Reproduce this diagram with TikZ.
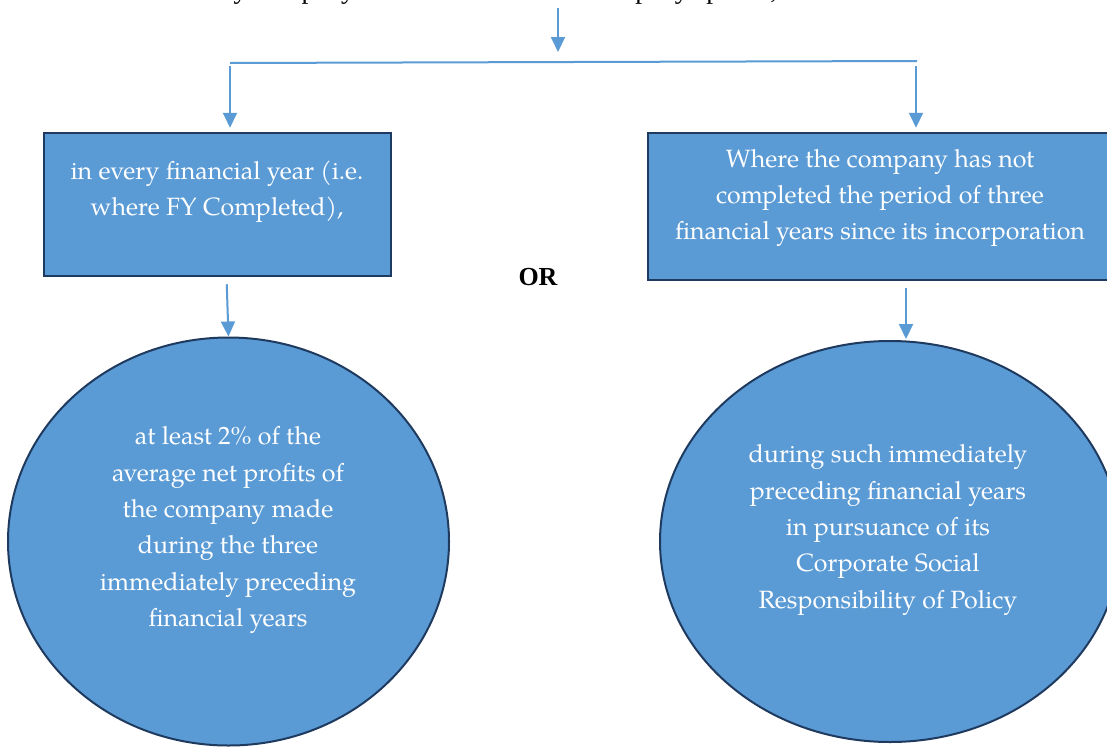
\documentclass[tikz,border=0pt]{standalone}
\usepackage{fontspec}
\setmainfont{TeX Gyre Pagella}
\newfontfamily\timesfont{Liberation Serif}
\usetikzlibrary{arrows.meta,shapes.geometric}
\definecolor{boxblue}{HTML}{5B9BD5}
\definecolor{edgenavy}{HTML}{1F3A5F}
\definecolor{arrowblue}{HTML}{5B9BD5}
\tikzset{
  boxstyle/.style={draw=edgenavy, fill=boxblue, line width=2.5pt, rectangle, inner sep=0pt},
  ellstyle/.style={draw=edgenavy, fill=boxblue, line width=2pt, ellipse, inner sep=0pt},
  bodytext/.style={text=white, align=center, font=\fontsize{25}{36.3}\selectfont, inner sep=0pt},
  arr/.style={draw=arrowblue, line width=2pt, -{Triangle[length=15pt,width=14pt]}},
  plainline/.style={draw=arrowblue, line width=2pt}
}
\begin{document}
\begin{tikzpicture}[x=1pt,y=-1pt]
\clip (0,0) rectangle (1107,747);
\fill[white] (0,0) rectangle (1107,747);

% intro text (only descenders visible)
\node[anchor=base west, inner sep=0pt, font=\timesfont\fontsize{27.5}{30}\selectfont] (intro) at (186,-1.5) {every company shall ensure that the company spends,};

% coordinates for the top split
\coordinate (t1) at (558,8);
\coordinate (t2) at (558,52);
\coordinate (hl) at (230,63);
\coordinate (hr) at (917,61);
\coordinate (la) at (230,66);
\coordinate (ra) at (916,66);

% boxes
\node[boxstyle, minimum width=347pt, minimum height=143pt] (lbox) at (217.5,204.5) {};
\node[boxstyle, minimum width=464pt, minimum height=147pt] (rbox) at (880,206.5) {};
\node[bodytext] (ltext) at (217,192) {in every financial year (i.e.\\where FY Completed),};
\node[bodytext] (rtext) at (880,198) {Where the company has not\\completed the period of three\\financial years since its incorporation};

% OR
\node[font=\timesfont\bfseries\fontsize{26}{30}\selectfont, inner sep=0pt] (or) at (538,277) {OR};

% ellipses
\node[ellstyle, minimum width=441pt, minimum height=408pt] (lell) at (228.5,541.5) {};
\node[ellstyle, minimum width=460pt, minimum height=401pt] (rell) at (890,541.5) {};
\node[bodytext] (ltext2) at (228,530) {at least 2\% of the\\average net profits of\\the company made\\during the three\\immediately preceding\\financial years};
\node[bodytext] (rtext2) at (888,530) {during such immediately\\preceding financial years\\in pursuance of its\\Corporate Social\\Responsibility of Policy};

% connectors
\draw[arr] (t1) -- (t2);
\draw[plainline] (hl) -- (hr);
\draw[arr, shorten >=4pt] (la) -- (la |- lbox.north);
\draw[arr, shorten >=4pt] (ra) -- (ra |- rbox.north);
\draw[arr, shorten <=7pt] ([xshift=9pt]lbox.south) -- (lell.north);
\draw[arr, shorten <=7pt] ([xshift=26pt]rbox.south) -- ([xshift=26pt,yshift=1pt]rbox.south |- rell.north);
\end{tikzpicture}
\end{document}
